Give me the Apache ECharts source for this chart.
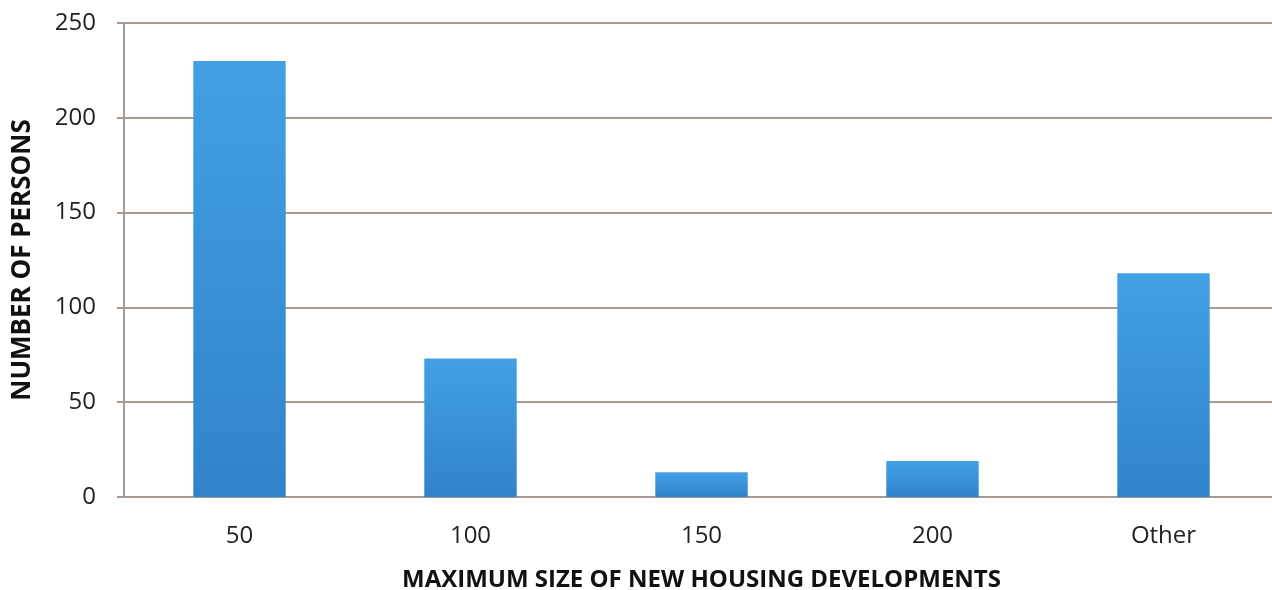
<!DOCTYPE html>
<html>
<head>
<meta charset="utf-8">
<script src="https://cdn.jsdelivr.net/npm/echarts@6/dist/echarts.min.js"></script>
<style>
html,body{margin:0;padding:0;background:#fff;}
#chart{width:1272px;height:590px;}
</style>
</head>
<body>
<div id="chart"></div>
<script>
const categories = ['50', '100', '150', '200', 'Other'];
const persons = [230, 73, 13, 19, 118];
const yTicks = [0, 50, 100, 150, 200, 250];
const xTitle = 'MAXIMUM SIZE OF NEW HOUSING DEVELOPMENTS';
const yTitle = 'NUMBER OF PERSONS';

const chart = echarts.init(document.getElementById('chart'));
const lineColor = '#a69b94';
chart.setOption({
  animation: false,
  grid: { left: 124, top: 23, width: 1155, height: 474, containLabel: false, outerBoundsMode: 'none' },
  xAxis: {
    type: 'category',
    data: categories,
    name: xTitle,
    nameLocation: 'middle',
    nameGap: 71,
    nameTextStyle: { fontFamily: 'Open Sans', fontWeight: 'bold', fontSize: 24, color: '#111' },
    axisLine: { lineStyle: { color: lineColor, width: 2 } },
    axisTick: { show: false },
    axisLabel: { fontFamily: 'Open Sans', fontSize: 24, color: '#222', margin: 27 }
  },
  yAxis: {
    type: 'value',
    min: yTicks[0],
    max: yTicks[yTicks.length - 1],
    interval: 50,
    name: yTitle,
    nameLocation: 'middle',
    nameGap: 88,
    nameTextStyle: { fontFamily: 'Open Sans', fontWeight: 'bold', fontSize: 26, color: '#111' },
    axisLine: { show: true, lineStyle: { color: lineColor, width: 2 } },
    axisTick: { show: true, length: 7, lineStyle: { color: lineColor, width: 2 } },
    splitLine: { lineStyle: { color: lineColor, width: 2 } },
    axisLabel: { fontFamily: 'Open Sans', fontSize: 24, color: '#222', margin: 28 }
  },
  series: [{
    type: 'bar',
    data: persons,
    barWidth: '40%',
    itemStyle: {
      color: new echarts.graphic.LinearGradient(0, 0, 0, 1, [
        { offset: 0, color: '#43a0e4' },
        { offset: 1, color: '#3083cb' }
      ])
    }
  }]
});
</script>
</body>
</html>
